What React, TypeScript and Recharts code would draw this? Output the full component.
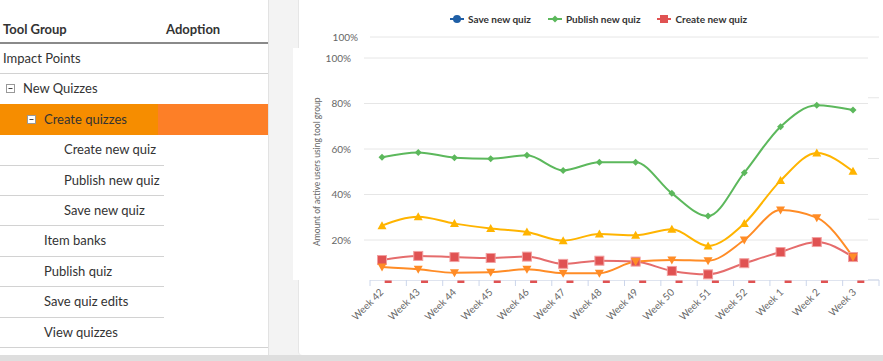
import React from 'react'
import { CartesianGrid, Line, LineChart, XAxis, YAxis } from 'recharts'

const WEEKS = ['Week 42', 'Week 43', 'Week 44', 'Week 45', 'Week 46', 'Week 47', 'Week 48', 'Week 49', 'Week 50', 'Week 51', 'Week 52', 'Week 1', 'Week 2', 'Week 3']

// adoption per week, % of active users
const PUBLISH_NEW_QUIZ = [56.4, 58.5, 56.2, 55.7, 57.2, 50.6, 54.2, 54.2, 40.5, 30.5, 49.6, 69.8, 79.2, 77.1]
const ITEM_BANKS = [26.3, 30.2, 27.2, 25.1, 23.5, 19.7, 22.6, 22.1, 24.7, 17.4, 27.3, 46.1, 58.2, 50.2]
const PUBLISH_QUIZ = [8.1, 7.1, 5.6, 5.8, 7.1, 5.4, 5.4, 10.5, 11.2, 10.9, 20.0, 33.2, 29.8, 12.5]
const CREATE_NEW_QUIZ = [11.2, 13.0, 12.5, 12.1, 12.7, 9.5, 10.9, 10.5, 6.4, 4.9, 9.8, 14.7, 19.1, 12.5]
const CREATE_NEW_BASE = [0, 0, 0, 0, 0, 0, 0, 0, 0, 0, 0, 0, 0, 0]

const Y_TICKS = [0, 20, 40, 60, 80, 100]
const BASE_TICKS = [0, 25, 50, 75, 100]

const TOOL_ROWS: [string, number, boolean][] = [
  ['Impact Points', 0, false],
  ['New Quizzes', 1, true],
  ['Create quizzes', 2, true],
  ['Create new quiz', 3, false],
  ['Publish new quiz', 3, false],
  ['Save new quiz', 3, false],
  ['Item banks', 2, false],
  ['Publish quiz', 2, false],
  ['Save quiz edits', 2, false],
  ['View quizzes', 2, false],
]

const LEGEND: [string, string, string][] = [
  ['Save new quiz', '#1f5fa6', 'circle'],
  ['Publish new quiz', '#5cb85c', 'diamond'],
  ['Create new quiz', '#e05252', 'square'],
]

const GREEN = '#5cb85c'
const YELLOW = '#ffb400'
const ORANGE = '#ff8c26'
const RED = '#e05252'
const FONT = 'Lato, "Open Sans", sans-serif'

const rows = WEEKS.map((week, i) => ({
  week,
  publishNew: PUBLISH_NEW_QUIZ[i],
  itemBanks: ITEM_BANKS[i],
  publishQuiz: PUBLISH_QUIZ[i],
  createNew: CREATE_NEW_QUIZ[i],
  base: CREATE_NEW_BASE[i],
}))

// width of one week slot on the base axis (plot is 509px wide)
const BG_BAND = 509 / WEEKS.length

function MinusBox({ x, y }: { x: number; y: number }) {
  return (
    <svg width={10} height={10} style={{ position: 'absolute', left: x, top: y }}>
      <rect x={0.5} y={0.5} width={8} height={8} fill="#fff" stroke="#999" />
      <line x1={2.5} x2={6.5} y1={4.5} y2={4.5} stroke="#444" />
    </svg>
  )
}

function ToolTable() {
  const rowH = 30.4
  const indentX = [3, 23, 44, 64]
  return (
    <div style={{ position: 'absolute', left: 0, top: 0, width: 268, height: 355, background: '#fff', borderRight: '1px solid #e2e2e2', color: '#333', fontSize: 13 }}>
      <div style={{ position: 'absolute', left: 3, top: 21, fontWeight: 700 }}>Tool Group</div>
      <div style={{ position: 'absolute', left: 166, top: 21, fontWeight: 700 }}>Adoption</div>
      <div style={{ position: 'absolute', left: 0, top: 42, width: 268, height: 2, background: '#8a8a8a' }} />
      {TOOL_ROWS.map(([label, level, toggle], i) => {
        const top = 44 + i * rowH
        const selected = i === 2
        const fullLine = i === 0 || i === TOOL_ROWS.length - 1
        return (
          <React.Fragment key={label}>
            {selected && (
              <>
                <div style={{ position: 'absolute', left: 0, top: top - 0.5, width: 158, height: rowH, background: '#f68d00' }} />
                <div style={{ position: 'absolute', left: 158, top: top - 0.5, width: 110, height: rowH, background: '#fd7f27' }} />
              </>
            )}
            {toggle && <MinusBox x={indentX[level] - 17} y={top + 10} />}
            <div style={{ position: 'absolute', left: indentX[level], top: top + 6, whiteSpace: 'nowrap' }}>{label}</div>
            {!selected && i !== 1 && (
              <div style={{ position: 'absolute', left: 0, top: top + rowH - 1, width: fullLine ? 268 : 164, height: 1, background: '#d2d2d2' }} />
            )}
          </React.Fragment>
        )
      })}
    </div>
  )
}

function LegendMark({ color, shape }: { color: string; shape: string }) {
  return (
    <svg width={14} height={10} style={{ marginRight: 4 }}>
      <line x1={0} x2={14} y1={5} y2={5} stroke={color} strokeWidth={2} />
      {shape === 'circle' && <circle cx={7} cy={5} r={4} fill={color} />}
      {shape === 'diamond' && <path d="M7 1.5 L10.5 5 L7 8.5 L3.5 5 Z" fill={color} />}
      {shape === 'square' && <rect x={3} y={1} width={8} height={8} fill={color} />}
    </svg>
  )
}

function WeekTick(props: any) {
  const { x, y, payload, index } = props
  const half = BG_BAND / 2
  const tx = x - 4
  const ty = y + 13
  return (
    <g>
      <line x1={x - half} x2={x - half} y1={y} y2={y + 6} stroke="#ccd6eb" />
      {index === WEEKS.length - 1 && <line x1={x + half} x2={x + half} y1={y} y2={y + 6} stroke="#ccd6eb" />}
      <text x={tx} y={ty} transform={`rotate(-45 ${tx} ${ty})`} textAnchor="end" fontSize={10} fill="#666" fontFamily={FONT}>
        {payload.value}
      </text>
    </g>
  )
}

const baseDash = (p: any) => <rect key={`b${p.index}`} x={p.cx - 3.5} y={p.cy + 0.5} width={7} height={2.5} fill={RED} />
const diamondDot = (p: any) => <path key={`d${p.index}`} d={`M${p.cx} ${p.cy - 3.5} L${p.cx + 3.5} ${p.cy} L${p.cx} ${p.cy + 3.5} L${p.cx - 3.5} ${p.cy} Z`} fill={GREEN} />
const upDot = (p: any) => <path key={`u${p.index}`} d={`M${p.cx} ${p.cy - 4.5} L${p.cx + 4.5} ${p.cy + 3.5} L${p.cx - 4.5} ${p.cy + 3.5} Z`} fill={YELLOW} />
const downDot = (p: any) => <path key={`v${p.index}`} d={`M${p.cx - 4.5} ${p.cy - 3.5} L${p.cx + 4.5} ${p.cy - 3.5} L${p.cx} ${p.cy + 4.5} Z`} fill={ORANGE} />
const squareDot = (p: any) => <rect key={`s${p.index}`} x={p.cx - 4.5} y={p.cy - 4.5} width={9} height={9} fill={RED} stroke="#f2a0a0" strokeWidth={1} />

const pct = (v: number) => `${v}%`
// lower labels of the base axis sit under the line panel, only the top one shows
const topPct = (v: number) => (v === 100 ? `${v}%` : '')

export default function App() {
  return (
    <div style={{ position: 'absolute', left: 0, top: 0, width: 883, height: 361, background: '#f3f3f3', fontFamily: FONT, overflow: 'hidden' }}>
      <ToolTable />

      {/* base chart: legend, x axis, zero markers */}
      <div style={{ position: 'absolute', left: 298, top: 0, width: 585, height: 355, background: '#fff', borderLeft: '1px solid #e6e6e6', borderBottomLeftRadius: 4 }}>
        <LineChart width={585} height={355} data={rows} margin={{ top: 37, right: 5, bottom: 15, left: 0 }}>
          <CartesianGrid vertical={false} stroke="#e6e6e6" />
          <XAxis dataKey="week" interval={0} height={60} padding={{ left: BG_BAND / 2, right: BG_BAND / 2 }} tickLine={false} tickSize={0} tickMargin={0} axisLine={{ stroke: '#ccd6eb' }} tick={WeekTick} />
          <YAxis width={71} domain={[0, 100]} ticks={BASE_TICKS} tickFormatter={topPct} axisLine={false} tickLine={false} tickSize={6} tickMargin={6} tick={{ fontSize: 10, fill: '#666', fontFamily: FONT }} />
          <Line dataKey="base" stroke="none" strokeWidth={0} dot={baseDash} activeDot={false} isAnimationActive={false} />
        </LineChart>
      </div>

      <div style={{ position: 'absolute', left: 450, top: 13, display: 'flex', alignItems: 'center', fontSize: 10, fontWeight: 700, color: '#333', whiteSpace: 'nowrap' }}>
        {LEGEND.map(([name, color, shape]) => (
          <div key={name} style={{ display: 'flex', alignItems: 'center', marginRight: 17 }}>
            <LegendMark color={color} shape={shape} />
            {name}
          </div>
        ))}
      </div>

      {/* adoption lines per tool */}
      <div style={{ position: 'absolute', left: 293, top: 48, width: 575, height: 232, background: '#fff', overflow: 'hidden' }}>
        <LineChart width={590} height={250} data={rows} margin={{ top: 10, right: 12, bottom: 12.5, left: 0 }}>
          <CartesianGrid vertical={false} stroke="#e6e6e6" />
          <XAxis dataKey="week" hide padding={{ left: 18, right: 18 }} />
          <YAxis
            width={71}
            domain={[0, 100]}
            ticks={Y_TICKS}
            tickFormatter={pct}
            axisLine={false}
            tickLine={false}
            tickSize={6}
            tickMargin={7}
            tick={{ fontSize: 10, fill: '#666', fontFamily: FONT }}
            label={{ value: 'Amount of active users using tool group', angle: -90, position: 'center', dx: -12, style: { fontSize: 8.5, fill: '#666', fontFamily: FONT } }}
          />
          <Line type="monotone" dataKey="publishNew" stroke={GREEN} strokeWidth={2} dot={diamondDot} activeDot={false} isAnimationActive={false} />
          <Line type="monotone" dataKey="itemBanks" stroke={YELLOW} strokeWidth={2} dot={upDot} activeDot={false} isAnimationActive={false} />
          <Line type="monotone" dataKey="createNew" stroke={RED} strokeOpacity={0.85} strokeWidth={2} dot={squareDot} activeDot={false} isAnimationActive={false} />
          <Line type="monotone" dataKey="publishQuiz" stroke={ORANGE} strokeWidth={2} dot={downDot} activeDot={false} isAnimationActive={false} />
        </LineChart>
      </div>

      <div style={{ position: 'absolute', left: 0, top: 355, width: 883, height: 6, background: '#dedede' }} />
    </div>
  )
}
